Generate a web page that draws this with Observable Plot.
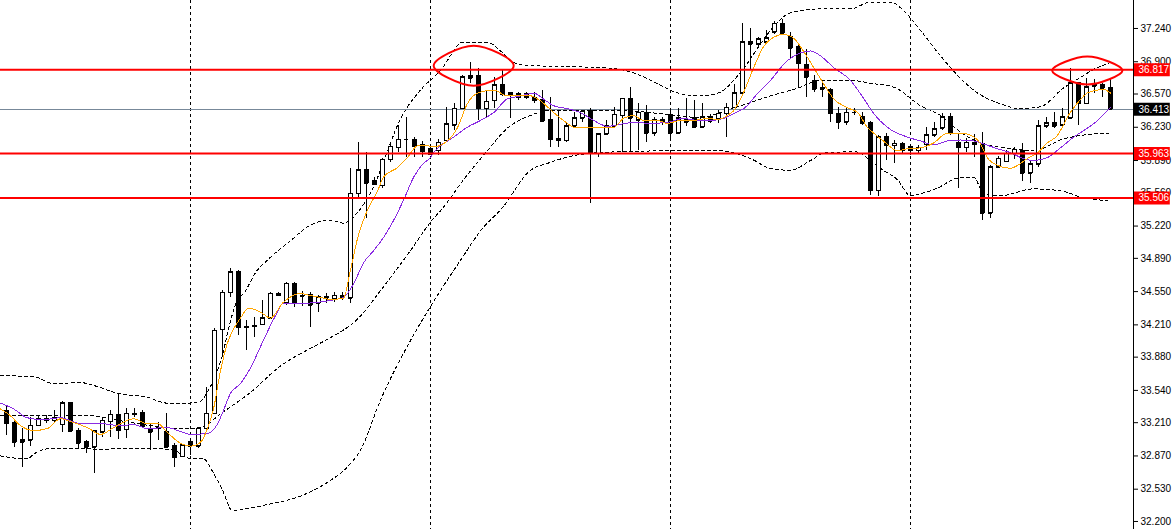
<!DOCTYPE html>
<html><head><meta charset="utf-8">
<script src="https://cdn.jsdelivr.net/npm/d3@7"></script>
<script src="https://cdn.jsdelivr.net/npm/@observablehq/plot@0.6"></script>
<style>body{margin:0;background:#fff} svg{display:block}</style>
</head><body><div id="chart"></div>
<script>
// OHLC per candle (index 0..138)
const opens = [33.33,33.21,33.01,33.03,33.18,33.23,33.23,33.19,33.41,33.13,33.01,32.96,33.11,33.22,33.29,33.14,33.30,33.31,33.15,33.16,33.11,32.97,32.86,33.01,32.97,33.15,33.30,34.16,34.54,34.75,34.19,34.20,34.21,34.28,34.53,34.43,34.63,34.50,34.52,34.43,34.49,34.47,34.51,34.48,35.55,35.79,35.68,35.63,35.90,36.02,36.10,36.10,36.05,36.01,35.99,36.09,36.25,36.42,36.75,36.75,36.42,36.50,36.66,36.58,36.57,36.57,36.53,36.51,36.30,36.11,36.09,36.24,36.32,36.40,35.96,36.16,36.24,36.35,36.52,36.30,36.38,36.17,36.28,36.36,36.17,36.28,36.32,36.23,36.33,36.31,36.37,36.43,36.58,37.10,37.08,37.10,37.20,37.29,37.15,37.05,36.87,36.70,36.63,36.61,36.37,36.28,36.38,36.33,36.27,35.58,36.13,36.04,36.06,36.03,35.99,36.05,36.15,36.22,36.33,36.07,36.02,36.07,36.06,35.35,35.82,35.88,35.96,35.99,35.76,35.85,36.24,36.27,36.25,36.32,36.68,36.47,36.67,36.66,36.63];
const highs = [33.39,33.23,33.15,33.26,33.27,33.28,33.33,33.43,33.42,33.15,33.03,33.13,33.26,33.33,33.51,33.36,33.35,33.33,33.20,33.21,33.30,33.00,32.98,33.03,33.15,33.57,34.17,34.56,34.79,34.77,34.25,34.29,34.46,34.54,34.54,34.64,34.64,34.55,34.54,34.51,34.53,34.54,34.54,35.81,36.07,35.97,35.72,35.91,36.07,36.25,36.33,36.13,36.08,36.03,36.10,36.43,36.47,36.76,36.89,36.83,36.61,36.74,36.81,36.59,36.59,36.59,36.59,36.61,36.53,36.40,36.27,36.38,36.40,36.42,36.17,36.30,36.43,36.52,36.64,36.47,36.45,36.33,36.33,36.42,36.42,36.52,36.50,36.47,36.36,36.40,36.47,36.67,37.29,37.24,37.15,37.22,37.31,37.33,37.20,37.09,37.02,36.76,36.68,36.63,36.43,36.43,36.42,36.38,36.29,36.15,36.17,36.09,36.07,36.04,36.04,36.23,36.28,36.37,36.37,36.17,36.12,36.16,36.18,35.84,35.93,35.99,36.02,36.06,35.89,36.30,36.33,36.38,36.42,36.83,36.69,36.73,36.72,36.68,36.73];
const lows = [33.08,32.96,32.75,32.97,33.17,33.20,33.21,33.11,33.12,32.95,32.90,32.69,33.06,33.06,33.04,33.05,33.26,33.15,32.93,33.03,32.95,32.75,32.86,32.87,32.95,33.13,33.29,33.88,34.49,34.10,33.95,34.08,34.20,34.27,34.50,34.41,34.39,34.40,34.18,34.34,34.43,34.44,34.46,34.43,35.51,35.30,35.63,35.60,35.87,35.97,35.92,35.92,35.92,35.94,35.94,36.08,36.20,36.41,36.68,36.30,36.33,36.42,36.54,36.32,36.50,36.51,36.47,36.28,36.02,36.02,36.07,36.22,36.28,35.45,35.92,36.15,36.22,35.97,35.97,35.99,36.07,36.14,36.25,36.09,36.16,36.24,36.22,36.22,36.27,36.27,36.13,36.42,36.54,36.81,37.05,37.09,37.18,37.17,36.93,36.64,36.53,36.59,36.53,36.28,36.21,36.25,36.35,36.25,35.53,35.52,35.89,35.86,35.96,35.94,35.96,35.99,36.13,36.20,36.15,35.60,35.97,35.92,35.28,35.30,35.81,35.87,35.90,35.68,35.66,35.82,36.22,36.22,36.23,36.31,36.25,36.46,36.58,36.53,36.41];
const closes = [33.20,33.01,33.03,33.18,33.25,33.25,33.26,33.41,33.12,33.00,32.96,33.12,33.23,33.29,33.13,33.30,33.29,33.17,33.11,33.15,32.96,32.85,32.98,32.97,33.15,33.30,34.15,34.54,34.75,34.18,34.18,34.19,34.28,34.53,34.51,34.63,34.43,34.51,34.41,34.49,34.48,34.51,34.48,35.55,35.79,35.66,35.64,35.90,36.03,36.10,36.10,36.03,35.98,35.95,36.07,36.26,36.42,36.74,36.73,36.42,36.49,36.66,36.56,36.55,36.53,36.53,36.50,36.29,36.10,36.09,36.24,36.32,36.39,35.96,36.16,36.24,36.36,36.52,36.32,36.38,36.17,36.30,36.30,36.17,36.32,36.30,36.23,36.33,36.29,36.37,36.43,36.58,37.10,37.08,37.13,37.14,37.29,37.19,37.04,36.88,36.74,36.62,36.62,36.37,36.28,36.38,36.38,36.27,35.58,36.13,36.04,36.06,35.99,35.99,36.02,36.15,36.21,36.33,36.17,36.02,36.07,36.05,35.35,35.82,35.91,35.96,36.00,35.76,35.85,36.24,36.27,36.24,36.33,36.68,36.47,36.64,36.65,36.63,36.413];

// Indicator lines: [candle position, price]
const maFast = [[-0.75,33.35],[0.5,33.28],[1.75,33.18],[3.4,33.13],[5.1,33.15],[6.75,33.25],[8.4,33.21],[10.1,33.16],[11.75,33.09],[13.4,33.16],[15.9,33.25],[17.6,33.20],[18.9,33.20],[20.1,33.11],[21.75,33.00],[23,32.97],[24.25,33.01],[25.25,33.18],[25.9,33.36],[26.75,33.74],[27.6,34.02],[28.4,34.17],[29.25,34.28],[30.25,34.38],[31.75,34.34],[33,34.28],[34.6,34.44],[36.75,34.53],[38,34.51],[39.25,34.49],[40.5,34.47],[42.1,34.48],[43,34.77],[43.9,35.10],[45.1,35.38],[46.4,35.58],[47.1,35.72],[48.9,35.82],[50.1,35.92],[51.4,36.04],[52.6,36.04],[53.4,36.03],[55.1,36.09],[56.4,36.23],[57.6,36.47],[58.9,36.58],[60.9,36.61],[62.6,36.55],[65.1,36.56],[66.75,36.50],[68.4,36.38],[70.1,36.27],[70.9,36.23],[73.4,36.23],[75.1,36.23],[75.9,36.23],[77.1,36.32],[78.4,36.35],[79.6,36.30],[81.4,36.30],[82.6,36.27],[84.25,36.30],[85.9,36.30],[87.6,36.32],[88.9,36.31],[90.1,36.35],[90.9,36.40],[92.1,36.58],[93.4,36.84],[94.6,37.05],[95.9,37.15],[97.1,37.18],[98.4,37.14],[99.6,37.01],[100.9,36.84],[102.1,36.68],[103.4,36.52],[105.1,36.43],[106.4,36.38],[107.6,36.23],[108.4,36.17],[109.6,36.09],[111.4,35.99],[112.6,36.01],[114.25,36.02],[115.9,36.07],[117.6,36.17],[119.25,36.17],[120.5,36.15],[121.75,36.06],[122.6,35.92],[123.9,35.84],[125.5,35.81],[126.4,35.84],[127.6,35.91],[128.9,35.97],[130.1,36.07],[131.4,36.15],[132.1,36.25],[132.6,36.33],[133.9,36.48],[135.1,36.58],[136.4,36.61],[137,36.62],[138,36.58]];
const maSlow = [[-0.75,33.41],[0.9,33.35],[2.6,33.26],[4.6,33.24],[6.75,33.26],[9.25,33.20],[11.75,33.20],[14.25,33.18],[15.9,33.19],[17.6,33.15],[20.1,33.16],[21.75,33.12],[23,33.09],[25.1,33.10],[26.4,33.20],[27.1,33.33],[28,33.51],[29.25,33.61],[30.5,33.77],[32.1,34.05],[33.6,34.30],[34.6,34.43],[36.75,34.43],[38.9,34.44],[40.5,34.46],[42.1,34.49],[43.4,34.63],[44.6,34.84],[45.9,34.97],[47.1,35.10],[48.4,35.28],[49.6,35.48],[50.9,35.72],[52.1,35.86],[53,35.92],[53.4,35.97],[55.9,36.13],[57.6,36.23],[59.25,36.30],[60.9,36.38],[62.6,36.52],[64.25,36.55],[65.9,36.58],[67.1,36.52],[68.4,36.45],[70.1,36.42],[71.75,36.38],[73.4,36.30],[75.1,36.24],[76.75,36.26],[78.4,36.28],[80.5,36.27],[82.6,36.28],[84.6,36.32],[86.4,36.30],[88,36.30],[89.6,36.32],[90.9,36.37],[92.6,36.45],[93.4,36.53],[95.5,36.71],[97.6,36.91],[99.25,36.99],[100.5,37.01],[101.75,36.96],[103.4,36.84],[105.5,36.71],[107.1,36.53],[108.4,36.37],[110.1,36.23],[112.6,36.13],[114.25,36.09],[115.9,36.05],[117.6,36.09],[119.25,36.10],[120.9,36.09],[122.1,36.06],[123.9,36.01],[125.5,35.97],[127.1,35.91],[128.4,35.89],[130.1,35.92],[131.75,36.02],[133.4,36.13],[135.1,36.22],[136.4,36.30],[137.6,36.40],[138,36.43]];
const upperBand = [[-0.75,33.69],[3.4,33.68],[5.9,33.61],[9.25,33.62],[10.9,33.59],[13.9,33.51],[17.6,33.47],[20.1,33.41],[22.6,33.41],[24.25,33.43],[25.1,33.52],[26.1,33.69],[27,33.90],[27.75,34.17],[28.6,34.41],[29.9,34.56],[31.1,34.74],[32.6,34.87],[35.5,35.07],[38,35.23],[40.5,35.28],[42.1,35.25],[43.9,35.36],[45.5,35.56],[49.6,36.37],[51.75,36.61],[54.25,36.81],[57.1,37.10],[60.1,37.10],[61.75,37.01],[63.4,36.89],[65.5,36.86],[70.9,36.85],[75.9,36.83],[79.25,36.76],[81.75,36.66],[83.9,36.58],[86.75,36.55],[89.25,36.59],[90.9,36.71],[92.4,36.86],[93.4,36.98],[95.5,37.22],[98,37.40],[101.75,37.44],[105.5,37.44],[108,37.51],[110.5,37.51],[112.4,37.40],[114.25,37.22],[116.75,36.96],[119.25,36.73],[121.4,36.58],[124.25,36.47],[126.75,36.42],[129.25,36.44],[132.1,36.63],[134.25,36.74],[136.1,36.83],[137.75,36.88]];
const middleBand = [[-0.75,33.28],[6.75,33.28],[10.5,33.28],[14.25,33.23],[18,33.18],[21.75,33.15],[24.25,33.16],[26.75,33.30],[30.5,33.52],[34.25,33.79],[38,33.97],[40.5,34.08],[43.9,34.27],[46.75,34.56],[50.5,34.97],[53,35.26],[54.6,35.41],[57.1,35.69],[60.1,35.99],[62.6,36.22],[65.5,36.35],[67.6,36.40],[71.75,36.40],[76.75,36.40],[81.75,36.37],[86.75,36.33],[89.25,36.38],[91.75,36.45],[95.5,36.55],[98.9,36.63],[101.75,36.71],[105.5,36.71],[108,36.68],[110.9,36.64],[114.25,36.45],[116.75,36.35],[118.6,36.22],[122.1,36.06],[125.9,36.01],[128.4,35.99],[132.1,36.11],[134.6,36.15],[137.75,36.17]];
const lowerBand = [[-0.75,32.87],[2.6,32.84],[3.4,32.89],[5.9,32.95],[11.75,32.94],[17.6,32.95],[20.9,32.93],[22.6,32.85],[24.6,32.84],[25.9,32.69],[27,32.52],[28.25,32.31],[29.9,32.33],[33,32.38],[36.75,32.46],[40.5,32.62],[42.4,32.74],[44.25,32.93],[46.75,33.44],[50.5,34.05],[54.25,34.56],[56.75,34.87],[59.25,35.17],[62,35.41],[65.5,35.79],[67.6,35.86],[70.9,35.94],[72.6,35.96],[76.75,35.98],[84.25,35.99],[89.25,35.99],[93,35.91],[95.5,35.81],[98,35.79],[100.5,35.89],[102.4,35.97],[106.1,35.98],[108,35.89],[109.25,35.81],[111.4,35.69],[113,35.53],[114.25,35.55],[116.4,35.61],[118.9,35.71],[120.9,35.72],[122.1,35.56],[124.25,35.53],[128.4,35.60],[131.75,35.58],[134.6,35.51],[137.6,35.48]];

const separators = [23, 53, 83, 113];
const redLevels = [36.817, 35.963, 35.506];
const currentPrice = 36.413;
const tickValues = [37.240, 36.900, 36.570, 36.230, 35.890, 35.560, 35.220, 34.890, 34.550, 34.210, 33.880, 33.540, 33.210, 32.870, 32.530, 32.200];
// annotation ellipses: [candle position, price] of left, top, right, bottom points
const ellipse1 = [[53.4,36.86],[58.4,37.064],[63.4,36.86],[58.4,36.655]];
const ellipse2 = [[130.7,36.81],[135.1,36.953],[139.5,36.81],[135.1,36.667]];

const candles = opens.map((o, i) => ({i, open: o, high: highs[i], low: lows[i], close: closes[i]}));
const pts = (arr, name) => arr.map(([i, v]) => ({i, v, name}));
const xDomain = [-0.75, 140.875];
const yDomain = [32.118, 37.526];
const xMax = xDomain[1];
const fmt = d3.format(".3f");
const priceLabels = [
  ...redLevels.map(v => ({v, c: "#ff0000"})),
  {v: currentPrice, c: "#000000"}
];
const bands = [...pts(upperBand, "u"), ...pts(middleBand, "m"), ...pts(lowerBand, "l")];
const ellipses = [...pts(ellipse1, "e1"), ...pts(ellipse2, "e2")];

const chart = Plot.plot({
  width: 1175, height: 529,
  marginLeft: 0, marginRight: 42, marginTop: 0, marginBottom: 0,
  x: {domain: xDomain, axis: null},
  y: {domain: yDomain, axis: null},
  style: {fontFamily: "'Liberation Sans', Arial, sans-serif", fontSize: "10px", background: "white", color: "black"},
  marks: [
    Plot.ruleX(separators, {stroke: "black", strokeDasharray: "3,3", shapeRendering: "crispEdges"}),
    Plot.line(bands, {x: "i", y: "v", z: "name", stroke: "black", strokeWidth: 1, strokeDasharray: "3,3", curve: "monotone-x", shapeRendering: "crispEdges"}),
    Plot.ruleY([currentPrice], {stroke: "#778899", shapeRendering: "crispEdges"}),
    Plot.ruleX(candles, {x: "i", y1: "low", y2: "high", stroke: "black", shapeRendering: "crispEdges"}),
    Plot.rect(candles, {x1: d => d.i - 0.25, x2: d => d.i + 0.25, y1: "open", y2: "close",
      fill: d => d.close >= d.open ? "white" : "black", stroke: "black", shapeRendering: "crispEdges"}),
    Plot.ruleY(candles, {y: "close", x1: d => d.i - 0.25, x2: d => d.i + 0.25, stroke: "black", shapeRendering: "crispEdges"}),
    Plot.ruleY(candles, {y: "open", x1: d => d.i - 0.25, x2: d => d.i + 0.25, stroke: "black", shapeRendering: "crispEdges"}),
    Plot.line(pts(maSlow, "slow"), {x: "i", y: "v", stroke: "#8a2be2", strokeWidth: 1, curve: "monotone-x", shapeRendering: "crispEdges"}),
    Plot.line(pts(maFast, "fast"), {x: "i", y: "v", stroke: "#ffa500", strokeWidth: 1, curve: "monotone-x", shapeRendering: "crispEdges"}),
    Plot.ruleY(redLevels, {stroke: "#ff0000", strokeWidth: 2}),
    Plot.line(ellipses, {x: "i", y: "v", z: "name", stroke: "#ff0000", strokeWidth: 2, curve: "catmull-rom-closed"}),
    Plot.axisY({anchor: "right", ticks: tickValues, tickFormat: fmt, tickSize: 4, tickPadding: 3, fontSize: 10, stroke: "black", fill: "black"}),
    Plot.ruleX([xMax], {stroke: "black", shapeRendering: "crispEdges"}),
    Plot.ruleY(priceLabels, {y: "v", x1: xMax + 0.12, x2: xMax + 4.6, stroke: "c", strokeWidth: 13}),
    Plot.text(priceLabels, {x: xMax, y: "v", text: d => fmt(d.v), dx: 5, textAnchor: "start", fill: "white", fontSize: 10})
  ]
});
document.getElementById("chart").appendChild(chart);
</script>
</body></html>
